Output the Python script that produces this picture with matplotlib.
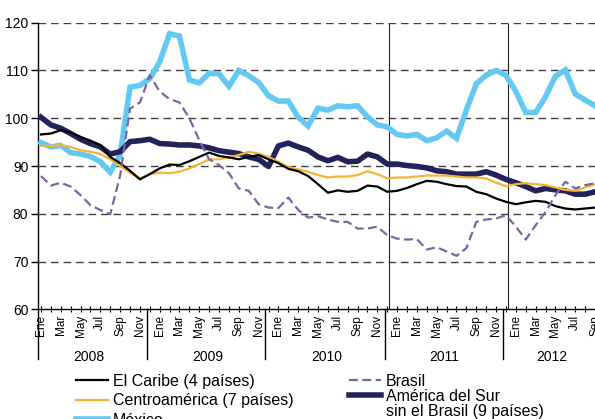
import numpy as np
import matplotlib.pyplot as plt
from matplotlib.lines import Line2D

plt.rcParams["font.family"] = ["Liberation Sans", "DejaVu Sans"]

# --- Data (indices, ene-2008 = 0) ---
months = np.arange(57)
month_names = ["Ene", "Feb", "Mar", "Abr", "May", "Jun",
               "Jul", "Ago", "Sep", "Oct", "Nov", "Dic"]
years = ["2008", "2009", "2010", "2011", "2012"]

caribe = [96.6, 96.8, 97.5, 97.0, 96.1, 95.3, 94.4, 91.9, 90.6, 89.0, 87.2, 88.3,
          89.5, 90.3, 90.2, 91.0, 91.9, 92.8, 92.1, 91.8, 91.4, 91.9, 92.3, 91.4,
          90.6, 89.4, 88.9, 87.9, 86.2, 84.4, 84.9, 84.6, 84.8, 85.9, 85.7, 84.6,
          84.8, 85.4, 86.2, 86.9, 86.7, 86.2, 85.8, 85.7, 84.6, 84.1, 83.2, 82.5,
          82.0, 82.4, 82.7, 82.5, 81.6, 81.1, 80.9, 81.1, 81.3]
centroamerica = [94.2, 94.2, 94.4, 94.0, 93.3, 93.0, 92.5, 91.4, 90.0, 88.6, 87.4, 88.3,
                 88.6, 88.5, 88.8, 89.5, 90.4, 91.4, 91.4, 91.8, 92.3, 93.0, 92.6, 91.9,
                 90.9, 89.8, 89.3, 88.8, 88.1, 87.6, 87.8, 87.8, 88.1, 88.9, 88.3, 87.4,
                 87.6, 87.6, 87.8, 88.0, 88.0, 88.0, 87.8, 87.6, 87.6, 87.4, 86.5, 85.8,
                 86.2, 86.4, 86.2, 86.0, 85.5, 85.0, 84.8, 85.5, 86.2]
mexico = [94.9, 94.0, 94.3, 92.8, 92.5, 92.0, 90.9, 88.7, 92.3, 106.5, 106.9, 108.3,
          111.8, 117.7, 117.2, 108.0, 107.4, 109.4, 109.3, 106.7, 110.0, 108.9, 107.5, 104.7,
          103.6, 103.6, 100.2, 98.4, 102.1, 101.7, 102.6, 102.4, 102.6, 100.3, 98.6, 98.2,
          96.6, 96.3, 96.6, 95.3, 95.9, 97.3, 95.8, 101.7, 107.2, 109.0, 110.0, 109.0,
          105.6, 101.2, 101.2, 104.5, 108.8, 110.1, 105.1, 103.8, 102.6]
brasil = [87.9, 85.9, 86.5, 85.7, 83.9, 81.8, 80.8, 79.9, 88.0, 102.0, 103.3, 109.0,
          105.6, 104.0, 103.3, 100.0, 95.4, 91.4, 90.2, 88.5, 85.3, 84.8, 82.0, 81.3,
          81.2, 83.4, 80.8, 79.2, 79.5, 78.8, 78.3, 78.3, 76.9, 76.9, 77.3, 75.5,
          74.8, 74.6, 74.7, 72.5, 73.0, 72.1, 71.2, 72.8, 78.3, 78.8, 79.0, 79.7,
          77.3, 74.6, 77.6, 80.4, 83.9, 86.7, 85.3, 86.0, 86.4]
am_sur = [100.2, 98.6, 97.9, 96.8, 95.6, 94.7, 94.0, 92.5, 93.0, 95.1, 95.3, 95.6,
          94.7, 94.6, 94.4, 94.4, 94.2, 93.8, 93.2, 92.9, 92.6, 91.9, 91.4, 89.9,
          94.2, 94.8, 94.0, 93.3, 91.9, 91.1, 91.8, 90.9, 91.0, 92.5, 91.9, 90.4,
          90.4, 90.1, 89.9, 89.6, 89.0, 88.8, 88.3, 88.3, 88.3, 88.8, 88.1, 87.2,
          86.5, 85.7, 84.8, 85.3, 85.0, 84.8, 84.1, 84.1, 84.6]

# --- Colours ---
C_MEX = "#63C9F2"
C_SUR = "#23235B"
C_CEN = "#F6B434"
C_CAR = "#000000"
C_BRA = "#7A65A5"

fig = plt.figure(figsize=(5.95, 4.19), dpi=100)
ax = fig.add_axes([38 / 595, 1 - 309.3 / 419, 557 / 595, (309.3 - 22.7) / 419])

ax.plot(months, mexico, color=C_MEX, lw=4.0, solid_joinstyle="miter", zorder=3)
ax.plot(months, am_sur, color=C_SUR, lw=4.0, zorder=4)
ax.plot(months, centroamerica, color=C_CEN, lw=1.6, zorder=5)
ax.plot(months, caribe, color=C_CAR, lw=1.6, zorder=6)
ax.plot(months, brasil, color=C_BRA, lw=1.6, ls=(0, (4, 2)), zorder=7)

ax.set_xlim(-0.3, 55.96)
ax.set_ylim(60, 120)

# grid
for v in range(70, 121, 10):
    ax.axhline(v, color="#404040", lw=1.0, ls=(0, (5.5, 3.5)), zorder=1)

# vertical lines inside the plot (2011, 2012)
for xv in [35.15, 47.17]:
    ax.plot([xv, xv], [60, 119.7], color="#222222", lw=0.8, zorder=2)

for s in ["top", "right"]:
    ax.spines[s].set_visible(False)
for s in ["left", "bottom"]:
    ax.spines[s].set_color("#000000")
    ax.spines[s].set_linewidth(1.0)

ax.set_yticks(range(60, 121, 10))
ax.tick_params(axis="y", direction="out", length=5, width=1, labelsize=10,
               pad=2, colors="#000000")

ax.set_xticks(months[::2])
ax.set_xticklabels([month_names[m % 12] for m in months[::2]], rotation=90)
ax.set_xticks(months, minor=True)
ax.tick_params(axis="x", which="both", direction="inout", length=4, width=0.8,
               labelsize=8.5, pad=2)

# year separators below the axis
trans = ax.get_xaxis_transform()
for xs in [-0.3, 10.7, 22.6, 34.8, 46.7]:
    ax.plot([xs, xs], [0, -0.175], color="#000000", lw=1.0, transform=trans,
            clip_on=False)
year_pos = [4.8, 16.9, 28.9, 40.8, 51.6]
for yp, yl in zip(year_pos, years):
    ax.text(yp, -0.165, yl, transform=trans, ha="center", va="center", fontsize=10)

# legend: two columns built as two legends
leg_kw = dict(loc="upper left", frameon=False, fontsize=11.5, handlelength=2.0,
              handletextpad=0.3, borderpad=0, borderaxespad=0)
h_left = [Line2D([], [], color=C_CAR, lw=1.6),
          Line2D([], [], color=C_CEN, lw=1.6),
          Line2D([], [], color=C_MEX, lw=4.0)]
l_left = ["El Caribe (4 países)", "Centroamérica (7 países)", "México"]
fig.legend(h_left, l_left, bbox_to_anchor=(76 / 595, 1 - 374 / 419),
           labelspacing=0.28, **leg_kw)

h_right = [Line2D([], [], color=C_BRA, lw=1.6, ls=(0, (4, 2))),
           Line2D([], [], color=C_SUR, lw=4.0),
           Line2D([], [], color="none")]
l_right = ["Brasil", "América del Sur", "sin el Brasil (9 países)"]
fig.legend(h_right, l_right, bbox_to_anchor=(349 / 595, 1 - 374 / 419),
           labelspacing=0.0, **leg_kw)

fig.savefig("out.png", dpi=100)
